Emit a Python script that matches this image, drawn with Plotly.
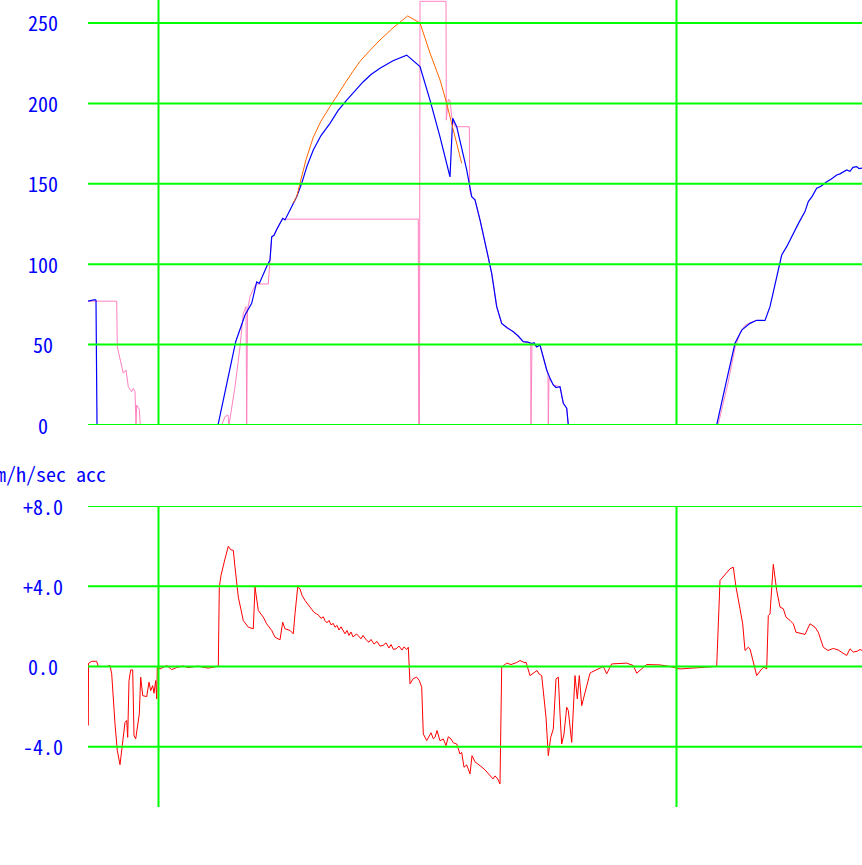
import plotly.graph_objects as go

# ---------------- data ----------------
# time axis (arbitrary units along the run)
speed_t = [0, 4, 7, 8, 9, 130, 140.3, 147.7, 157, 163.7, 168.7, 171.3, 178.7, 182, 183.7, 186, 188.7,
           194.7, 197, 202, 208.7, 213.7, 219, 225.3, 233, 242, 250, 258.7, 267, 275.3, 283, 292, 305, 318.7,
           332, 342, 352, 362,
           364.7, 368.7, 378.7, 383.7, 387, 392, 398.7, 403.7, 408.7, 413.7, 419, 425.3, 430, 435.3,
           440, 443.7, 446, 448.7, 452, 455, 458.7, 462, 465.3, 468, 472, 475.3, 478.7, 480.3,
           628.7, 638.7, 647, 653.7, 662, 668.7, 677, 682, 687, 693.7, 698.7, 705.3, 711, 717, 720.3,
           724, 728.7, 733, 738.7, 743, 748.7, 752, 758.7, 762, 765, 768.7, 771, 774]
speed_v = [77, 77.5, 78, 77.5, 0, 0, 29, 51.8, 68.4, 75.7, 89, 88, 98.6, 102.6, 117, 118, 121.6,
           128.5, 127.5, 133.7, 142, 150.3, 161, 171, 180, 187.6, 195.5, 202, 208, 213.5, 218, 221.8, 226.5, 230,
           222.9, 202, 179.2, 154.3,
           190.7, 185.5, 158.6, 142, 140, 127.5, 108.8, 94.3, 73.6, 63.2, 60.5, 58, 55.5, 51.8,
           51.5, 50.7, 51.2, 48.6, 49.7, 42, 34.2, 29, 24.9, 23.3, 23.8, 13.5, 10.4, 0,
           0, 28, 50.8, 59, 63.2, 65.1, 65, 73.6, 88, 105.7, 110.9, 119.2, 126, 132.7, 138.9,
           142, 147.2, 148.5, 151.3, 152.8, 155.5, 156.2, 158.6, 157.8, 160.2, 160.7, 159.5, 159.7]

target_t = [205, 208.7, 212, 218, 225.3, 233, 242, 250, 258, 265, 272, 282, 292, 305, 319.7, 332, 342, 352,
            358.7, 365.3, 373.7]
target_v = [138, 142, 150.3, 165, 179, 189, 198, 206, 213.5, 220, 226.2, 233, 239.4, 247, 254.4, 250, 231.3,
            214.6, 200, 183.5, 162.7]

limit_t = [0, 28.7, 29.3, 32, 35.3, 38, 40.3, 43.7, 45.3, 47, 48, 48.7, 51.3, 52.3,
           133.7, 137, 140, 141, 147, 152, 155.3, 158, 158.7, 159.5, 162, 165, 168, 180.3,
           182, 183.7, 186, 188.7, 194.7, 197, 330.3, 330.7, 331.5, 332, 358, 358.3, 360.3, 362,
           363.7, 367, 381.3, 381.7, 383.7, 387, 392, 398.7, 403.7, 408.7, 413.7, 425.3, 435.3,
           442.7, 443, 444, 448.7, 452, 458.7, 460, 460.3, 461, 465.3, 472, 475.3, 478.7, 480.3,
           630, 640, 647, 652, 657, 662, 668]
limit_v = [77, 77, 48.6, 40.4, 32.2, 34.2, 23.8, 20.7, 22.8, 20.7, 0, 12.4, 9.7, 0,
           0, 5.2, 6.2, 0, 23.8, 48.6, 69.4, 73.6, 0, 71.5, 79.8, 84, 87.7, 87.7,
           102.6, 117, 118, 121.6, 128.5, 128, 128, 0, 0, 263.5, 263.5, 189.6, 202.5, 202,
           191.7, 185.5, 185.5, 146, 142, 140, 127.5, 108.8, 94.3, 73.6, 63.2, 58, 51.8,
           50.8, 0, 50.7, 48.6, 49.7, 34.2, 31.5, 0, 29, 24.9, 23.8, 13.5, 10.4, 0,
           0, 26, 48, 57, 62, 63.5, 65]

acc_t = [0.3, 0.5, 3.7, 8.7, 10.3, 18.7, 22, 23.7, 27, 29.3, 32, 33.7, 35.3, 37, 38.7, 39.7, 41, 42.7,
         44.7, 46, 47.7, 49.3, 51.3, 52.7, 54.7, 58.7, 61, 62.7, 64.7, 66, 67.7, 68.7, 69.3, 72, 78.7,
         83.7, 88.7, 95, 100, 110, 120, 128.7, 130.3, 131.3, 133, 137, 140.3, 142.7, 145.3, 147, 150.3,
         155.3, 160.3, 165.3, 167, 170.3, 175.3, 178.7, 183.7, 187, 192, 194.7, 197, 202, 205.3, 207,
         209.7, 212, 214, 217, 219, 222, 224, 226, 228.7, 231, 233, 235.3, 237, 239, 241, 243, 245.3,
         247, 249, 251, 253, 255.3, 257, 259, 261, 263, 265, 268.7, 271, 273, 275, 278.7, 281, 283,
         286, 289, 292, 295, 298, 301, 303, 305.3, 308, 311, 314, 316, 318.7, 320.3, 322, 325.3,
         328.7, 331.3, 333.7, 335.3, 338.7, 341, 343, 345.3, 347, 349, 352, 355.3, 358, 360.3, 363,
         365.3, 368.7, 372, 373.7, 376, 378.7, 382, 384, 387, 390, 392, 394, 397, 399, 402, 405, 407,
         409.7, 412, 413.7, 418.7, 423, 428.7, 432, 437, 438, 442, 447, 449, 451.3, 453.7, 458, 460.3,
         462.7, 465.3, 468, 470.3, 472, 473.7, 476, 478.7, 480.3, 483.7, 487, 489.3, 491.3, 493.7,
         502, 503.7, 515.3, 518.7, 523.7, 538.7, 545.3, 548.7, 558.7, 572, 582, 592, 627, 628.7, 632,
         642, 645.3, 648, 652, 654.7, 657, 660.3, 662, 664.7, 668.7, 673.7, 676, 678.7, 680.3, 682,
         685.3, 688.7, 692, 695.3, 698, 702, 705.3, 708, 712, 714.7, 717, 722, 727, 730.3, 735.3, 740,
         745.3, 750, 753.7, 758.7, 762, 765.3, 769, 772, 774]
acc_v = [-2.94, 0.16, 0.26, 0.26, 0, 0, 0.05, -0.36, -2.86, -4.19, -4.89, -4.19, -3.36, -2.78, -2.69, -3.53, -0.70, -0.17,
         -0.17, -3.44, -3.61, -3.03, -2.36, -0.53, -1.45, -1.50, -0.78, -1.20, -0.95, -1.33, -0.70, -1.61, -0.03, -0.12, 0.05,
         -0.15, -0.05, 0.03, -0.05, 0.02, -0.08, 0, 0, 3.96, 4.54, 5.37, 5.99, 5.82, 5.79, 4.95, 3.46,
         2.29, 1.96, 1.88, 3.96, 2.79, 2.46, 2.13, 1.80, 1.46, 1.33, 2.21, 1.88, 1.80, 1.63, 2.63,
         3.96, 3.87, 3.55, 3.29, 3.15, 2.96, 2.85, 2.70, 2.62, 2.54, 2.40, 2.48, 2.29, 2.18, 2.30, 2.08, 2.15, 1.96,
         2.05, 1.82, 1.98, 1.75, 1.63, 1.80, 1.55, 1.72, 1.48, 1.62, 1.46, 1.38, 1.55, 1.30, 1.21, 1.35, 1.12,
         1.25, 1.02, 1.05, 1.18, 0.92, 1.10, 0.86, 0.88, 1.02, 0.82, 0.98, 0.85, 0.96, -0.86, -0.60, -0.53,
         -0.70, -1.03, -3.36, -3.69, -3.44, -3.30, -3.60, -3.53, -3.19, -3.70, -3.61, -3.94, -3.50, -3.61, -3.80,
         -3.86, -4.36, -4.28, -5.02, -4.90, -5.35, -4.44, -4.75, -4.85, -4.95, -5.02, -5.15, -5.27, -5.40, -5.60, -5.45, -5.60,
         -5.85, -0.03, 0.17, 0.10, 0.20, 0.30, 0.18, 0.22, -0.45, -0.30, -0.20, -0.38, -0.45, -2.53, -4.44, -3.53,
         -3.11, -0.61, -0.53, -2.36, -3.86, -3.36, -2.03, -2.19, -3.78, -0.45, -1.61, -0.45, -1.95, -0.33,
         -0.28, 0, -0.36, 0.13, 0.17, 0.05, -0.33, 0.10, 0.08, 0, -0.12, 0, 0, 4.29, 4.87,
         4.95, 3.96, 2.88, 2.13, 0.80, 0.96, 0.88, 0.30, -0.45, -0.12, -0.03, -0.12, 2.54, 2.63, 5.09,
         3.79, 2.96, 2.88, 2.46, 2.30, 2.13, 1.71, 1.66, 1.63, 1.60, 2.13, 1.96, 1.71, 0.96, 0.80, 0.90,
         0.83, 0.70, 0.55, 0.88, 0.72, 0.76, 0.85, 0.80, 0.78]

# axes / grid
t_range = [0, 774]
t_grid = [70.5, 588.5]
speed_range = [0, 264.3]
speed_ticks = [0, 50, 100, 150, 200, 250]
speed_labels = ["0", "50", "100", "150", "200", "250"]
acc_range = [-7.0, 8.0]
acc_ticks = [-4, 0, 4, 8]
acc_labels = ["-4.0", "0.0", "+4.0", "+8.0"]
acc_title = "km/h/sec acc"

# ---------------- figure ----------------
GREEN = "#00ff00"
BLUE = "#0000ff"
FONT = dict(family="Noto Sans Mono CJK JP, DejaVu Sans Mono, monospace", size=20, color=BLUE)

fig = go.Figure()
fig.add_trace(go.Scatter(x=limit_t, y=limit_v, mode="lines", line=dict(color="#ff80c0", width=1),
                         xaxis="x", yaxis="y", hoverinfo="skip"))
fig.add_trace(go.Scatter(x=speed_t, y=speed_v, mode="lines", line=dict(color=BLUE, width=1.2),
                         xaxis="x", yaxis="y", hoverinfo="skip"))
fig.add_trace(go.Scatter(x=target_t, y=target_v, mode="lines", line=dict(color="#ff6600", width=1),
                         xaxis="x", yaxis="y", hoverinfo="skip"))
fig.add_trace(go.Scatter(x=acc_t, y=acc_v, mode="lines", line=dict(color="#ff0000", width=1),
                         xaxis="x", yaxis="y2", hoverinfo="skip"))

shapes = []
for v in speed_ticks:
    shapes.append(dict(type="line", xref="paper", x0=0, x1=1, yref="y", y0=v, y1=v,
                       line=dict(color=GREEN, width=2), layer="above"))
for v in acc_ticks:
    shapes.append(dict(type="line", xref="paper", x0=0, x1=1, yref="y2", y0=v, y1=v,
                       line=dict(color=GREEN, width=2), layer="above"))
for t in t_grid:
    for yr in ["y domain", "y2 domain"]:
        shapes.append(dict(type="line", xref="x", x0=t, x1=t, yref=yr, y0=0, y1=1,
                           line=dict(color=GREEN, width=2), layer="above"))

W, H = 862, 865
ML, MB = 88, 58
plot_h = H - MB
label_x = (43 - ML) / (W - ML)

annotations = []
for v, s in zip(speed_ticks, speed_labels):
    annotations.append(dict(xref="paper", x=label_x, xanchor="center", yref="y", y=v, yanchor="middle",
                            text=s, showarrow=False, font=FONT))
for v, s in zip(acc_ticks, acc_labels):
    annotations.append(dict(xref="paper", x=label_x, xanchor="center", yref="y2", y=v, yanchor="middle",
                            text=s, showarrow=False, font=FONT))
annotations.append(dict(xref="paper", x=(108 - ML) / (W - ML), xanchor="right",
                        yref="paper", y=(plot_h - 473) / plot_h, yanchor="middle",
                        text=acc_title, showarrow=False, font=FONT))

axis_common = dict(showgrid=False, zeroline=False, showline=False, showticklabels=False, ticks="")
fig.update_layout(
    width=W, height=H,
    margin=dict(l=ML, r=0, t=0, b=MB, pad=0),
    paper_bgcolor="white", plot_bgcolor="white",
    showlegend=False,
    xaxis=dict(range=t_range, domain=[0, 1], anchor="y", **axis_common),
    yaxis=dict(range=speed_range, domain=[(plot_h - 425) / plot_h, 1], anchor="x", **axis_common),
    yaxis2=dict(range=acc_range, domain=[0, (plot_h - 506) / plot_h], anchor="x", **axis_common),
    shapes=shapes,
    annotations=annotations,
)

fig.write_html("out.html", config={"displayModeBar": False, "staticPlot": True},
               post_script="document.body.style.margin='0';document.body.style.overflow='hidden';")
